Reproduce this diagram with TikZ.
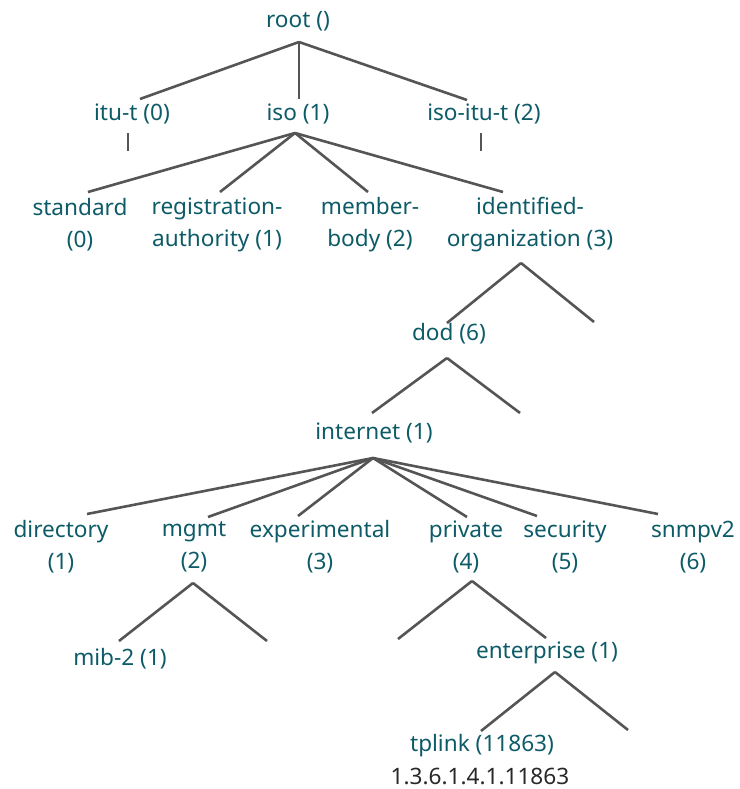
\documentclass[tikz,border=0pt]{standalone}
\usepackage{fontspec}
\setmainfont{Noto Sans}
\definecolor{lbl}{RGB}{14,91,104}
\definecolor{edgec}{RGB}{85,85,85}
\definecolor{oidc}{RGB}{40,40,40}
\begin{document}
\begin{tikzpicture}[x=1pt,y=-1pt,
  lab/.style={text=lbl,inner sep=0pt,align=center,font=\fontsize{22.6}{32}\selectfont},
  conn/.style={draw=edgec,line width=2.6pt}]
\useasboundingbox (0,0) rectangle (739,789);
% labels
\node[lab] (root) at (298,21) {root ()};
\node[lab] (itu) at (132,114) {itu-t (0)};
\node[lab] (iso) at (298,114) {iso (1)};
\node[lab] (isoitu) at (484,114) {iso-itu-t (2)};
\node[lab] (std) at (80,225) {standard\\(0)};
\node[lab] (reg) at (217,225) {registration-\\authority (1)};
\node[lab] (mem) at (370,225) {member-\\body (2)};
\node[lab] (ida) at (530,225) {identified-\\organization (3)};
\node[lab] (dod) at (449,334) {dod (6)};
\node[lab] (inet) at (374,433) {internet (1)};
\node[lab] (dir) at (61,547) {directory\\(1)};
\node[lab] (mgmt) at (194,547) {mgmt\\(2)};
\node[lab] (exp) at (320,547) {experimental\\(3)};
\node[lab] (priv) at (466,547) {private\\(4)};
\node[lab] (sec) at (565,547) {security\\(5)};
\node[lab] (snmp) at (693,547) {snmpv2\\(6)};
\node[lab] (mib) at (120,659) {mib-2 (1)};
\node[lab] (ent) at (547,653) {enterprise (1)};
\node[lab] (tpl) at (482,746) {tplink (11863)};
\node[lab,text=oidc] (oid) at (480,776.5) {1.3.6.1.4.1.11863};
% connector points
\coordinate (rootv) at (299,42);
\coordinate (itut) at (140,99);
\coordinate (isot) at (299,99);
\coordinate (isoitut) at (467,100);
\coordinate (itua) at (128,133);
\coordinate (itub) at (128,151);
\coordinate (isoitua) at (481,133);
\coordinate (isoitub) at (481,151);
\coordinate (isov) at (295,133);
\coordinate (stdt) at (88,192);
\coordinate (regt) at (220,192);
\coordinate (memt) at (368,192);
\coordinate (idat) at (503,192);
\coordinate (idav) at (521,263);
\coordinate (dodt) at (447,323);
\coordinate (idar) at (594,322);
\coordinate (dodv) at (447,358);
\coordinate (inett) at (372,413);
\coordinate (dodr) at (520,413);
\coordinate (inetv) at (373,458);
\coordinate (dirt) at (87,514);
\coordinate (mgmtt) at (208,517);
\coordinate (expt) at (298,516);
\coordinate (privt) at (467,517);
\coordinate (sect) at (537,516);
\coordinate (snmpt) at (658,514);
\coordinate (mgmtv) at (193,583);
\coordinate (mibt) at (119,641);
\coordinate (mgmtr) at (267,641);
\coordinate (privv) at (472,581);
\coordinate (privl) at (398,639);
\coordinate (entt) at (546,638);
\coordinate (entv) at (555,672);
\coordinate (tplt) at (481,731);
\coordinate (entr) at (628,730);
% connectors
\draw[conn] (rootv) -- (itut);
\draw[conn] (rootv) -- (isot);
\draw[conn] (rootv) -- (isoitut);
\draw[conn] (itua) -- (itub);
\draw[conn] (isoitua) -- (isoitub);
\draw[conn] (isov) -- (stdt);
\draw[conn] (isov) -- (regt);
\draw[conn] (isov) -- (memt);
\draw[conn] (isov) -- (idat);
\draw[conn] (idav) -- (dodt);
\draw[conn] (idav) -- (idar);
\draw[conn] (dodv) -- (inett);
\draw[conn] (dodv) -- (dodr);
\draw[conn] (inetv) -- (dirt);
\draw[conn] (inetv) -- (mgmtt);
\draw[conn] (inetv) -- (expt);
\draw[conn] (inetv) -- (privt);
\draw[conn] (inetv) -- (sect);
\draw[conn] (inetv) -- (snmpt);
\draw[conn] (mgmtv) -- (mibt);
\draw[conn] (mgmtv) -- (mgmtr);
\draw[conn] (privv) -- (privl);
\draw[conn] (privv) -- (entt);
\draw[conn] (entv) -- (tplt);
\draw[conn] (entv) -- (entr);
\end{tikzpicture}
\end{document}
